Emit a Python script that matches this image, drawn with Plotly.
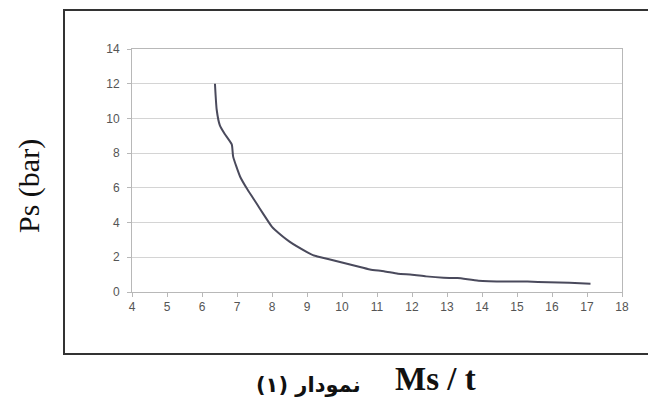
import plotly.graph_objects as go

ms_t = [6.37, 6.42, 6.51, 6.65, 6.85, 6.89, 7.09, 7.3, 7.56, 7.75, 8.0, 8.09, 8.5, 9.0, 9.2,
        9.6, 10.0, 10.4, 10.8, 11.2, 11.6, 12.0, 12.4, 12.9, 13.3, 13.9, 14.7, 15.3, 15.9, 16.5, 17.1]
ps_bar = [12.0, 10.5, 9.6, 9.1, 8.5, 7.8, 6.64, 5.9, 5.1, 4.5, 3.75, 3.57, 2.9, 2.3, 2.1,
          1.9, 1.7, 1.5, 1.3, 1.2, 1.05, 1.0, 0.9, 0.82, 0.8, 0.65, 0.6, 0.6, 0.56, 0.53, 0.48]

x_ticks = list(range(4, 19))
y_ticks = list(range(0, 15, 2))

W, H = 640, 390
L, R, T, B = 124, 26, 41, 106
PW, PH = W - L - R, H - T - B


def px(x):
    return (x - L) / PW


def py(y):
    return (H - B - y) / PH


fig = go.Figure()
fig.add_trace(go.Scatter(x=ms_t, y=ps_bar, mode="lines",
                         line=dict(color="#4a4a5c", width=2, shape="spline", smoothing=0.5),
                         showlegend=False))

fig.update_layout(
    width=W, height=H,
    margin=dict(l=L, r=R, t=T, b=B),
    paper_bgcolor="white", plot_bgcolor="white",
    font=dict(family="Liberation Sans, Arial", size=12, color="#555555"),
    xaxis=dict(range=[4, 18], tickvals=x_ticks, showgrid=False, zeroline=False,
               showline=True, linecolor="#b8b8b8", linewidth=1, mirror=True,
               ticks="outside", ticklen=4, tickcolor="#b8b8b8",
               tickfont=dict(size=12, color="#555555")),
    yaxis=dict(range=[0, 14], tickvals=y_ticks, showgrid=True, gridcolor="#d4d4d4",
               gridwidth=1, zeroline=False, showline=True, linecolor="#b8b8b8",
               linewidth=1, mirror=True, ticks="outside", ticklen=4,
               tickcolor="#b8b8b8", ticklabelstandoff=5,
               tickfont=dict(size=12, color="#555555")),
)

# outer frame (right edge runs off the picture, as in the original)
fig.add_shape(type="rect", xref="paper", yref="paper",
              x0=px(56), x1=px(700), y0=py(346), y1=py(2),
              line=dict(color="#333333", width=2), fillcolor="rgba(0,0,0,0)", layer="below")

fig.add_annotation(text="Ps (bar)", xref="paper", yref="paper",
                   x=px(21), y=py(178), xanchor="center", yanchor="middle",
                   showarrow=False, textangle=-90,
                   font=dict(family="Liberation Serif, Times New Roman", size=30, color="#111111"))
fig.add_annotation(text="<b>Ms / t</b>", xref="paper", yref="paper",
                   x=px(427), y=py(H), xanchor="center", yanchor="bottom", showarrow=False,
                   borderpad=0,
                   font=dict(family="Liberation Serif, Times New Roman", size=33, color="#111111"))
fig.add_annotation(text="<b>نمودار (۱)</b>", xref="paper", yref="paper",
                   x=px(300), y=py(H), xanchor="center", yanchor="bottom", showarrow=False,
                   borderpad=0,
                   font=dict(family="DejaVu Sans", size=21, color="#111111"))

fig.write_html("out.html")
